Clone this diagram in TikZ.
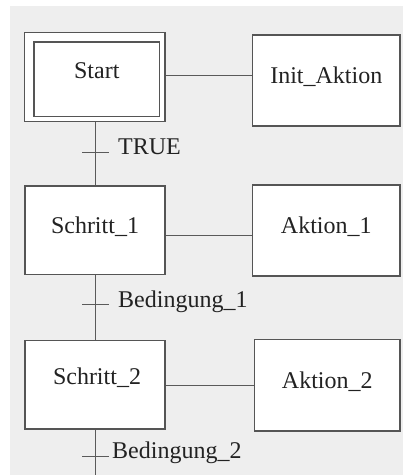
\documentclass[tikz,border=0pt]{standalone}
\usepackage{fontspec}
\setmainfont{Liberation Serif}
\begin{document}
\begin{tikzpicture}[x=1pt,y=-1pt,
  box/.style={draw=boxline, line width=1.2pt, fill=white, rectangle,
    inner sep=0pt, text=txt, text height=0.66em, text depth=0pt,
    font=\fontsize{24}{28}\selectfont},
  conn/.style={draw=wire, line width=1pt},
  cond/.style={anchor=west, inner sep=0pt, text=txt, text height=0.66em,
    text depth=0pt, font=\fontsize{24}{28}\selectfont}]
\definecolor{bg}{RGB}{238,238,238}
\definecolor{boxline}{RGB}{85,85,85}
\definecolor{wire}{RGB}{90,90,90}
\definecolor{txt}{RGB}{34,34,34}
\useasboundingbox (0,0) rectangle (403,475);
\fill[bg] (10,6) rectangle (403,475);

% initial step (double frame)
\node[box, minimum width=140.5pt, minimum height=89pt] (start) at (94.7,76.8) {};
\node[box, minimum width=125.3pt, minimum height=74.7pt] (startin) at (96.7,79.3) {};
\node[inner sep=0pt, text=txt, text height=0.66em, text depth=0pt,
  font=\fontsize{24}{28}\selectfont] (starttxt) at (96.8,75.3) {Start};

% steps
\node[box, minimum width=140pt, minimum height=88.3pt] (s1) at (95,230.2) {Schritt\_1};
\node[box, minimum width=140pt, minimum height=88.3pt] (s2) at (95,384.8) {};
\node[inner sep=0pt, text=txt, text height=0.66em, text depth=0pt,
  font=\fontsize{24}{28}\selectfont] (s2txt) at (97,380.7) {Schritt\_2};

% actions
\node[box, minimum width=147.3pt, minimum height=91pt] (a0) at (326.3,80.5) {Init\_Aktion};
\node[box, minimum width=147.3pt, minimum height=91pt] (a1) at (326.3,230.5) {Aktion\_1};
\node[box, minimum width=145.3pt, minimum height=91.7pt] (a2) at (327.3,385.2) {Aktion\_2};

% step -> action links
\draw[conn] (start.east |- 0,75) -- (a0.west |- 0,75);
\draw[conn] (s1.east |- 0,235.7) -- (a1.west |- 0,235.7);
\draw[conn] (s2.east |- 0,385) -- (a2.west |- 0,385);

% transitions
\coordinate (t0) at (95.5,152);
\coordinate (t1) at (95.5,304.3);
\coordinate (t2) at (95.5,456);
\coordinate (endline) at (95.5,475);
\draw[conn] (start.south -| t0) -- (s1.north -| t0);
\draw[conn] (s1.south -| t1) -- (s2.north -| t1);
\draw[conn] (s2.south -| t2) -- (endline);
\foreach \t in {t0,t1,t2}
  \draw[conn] ([xshift=-13.5pt]\t) -- ([xshift=13.5pt]\t);
\node[cond] (c0) at (118,151.5) {TRUE};
\node[cond] (c1) at (118,304) {Bedingung\_1};
\node[cond] (c2) at (112,455.5) {Bedingung\_2};
\end{tikzpicture}
\end{document}
